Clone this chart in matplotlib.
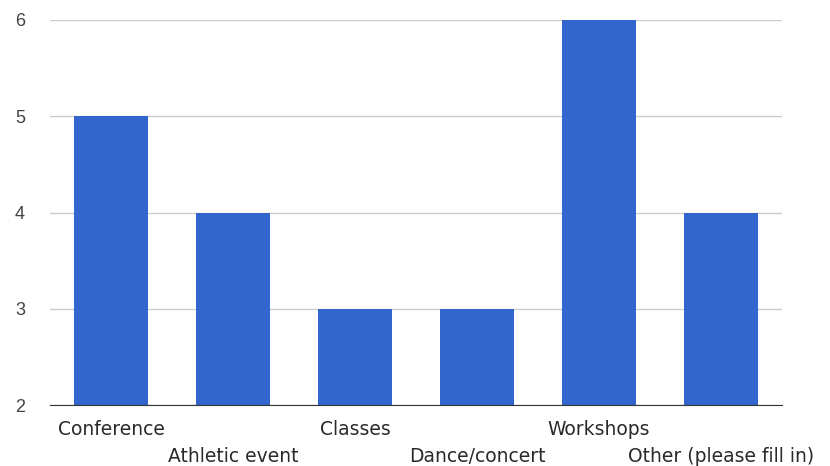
import matplotlib
matplotlib.use("Agg")
import matplotlib.pyplot as plt

# data
categories = ["Conference", "Athletic event", "Classes", "Dance/concert",
              "Workshops", "Other (please fill in)"]
counts = [5, 4, 3, 3, 6, 4]
yticks = [2, 3, 4, 5, 6]

plt.rcParams["font.family"] = ["Liberation Sans", "DejaVu Sans"]

fig = plt.figure(figsize=(8.3, 4.66), dpi=100)
ax = fig.add_axes([50 / 830, 61 / 466, 732 / 830, 385 / 466])

x = list(range(len(categories)))
ax.bar(x, counts, width=0.61, color="#3366cc", zorder=2)

ax.set_xlim(-0.5, len(categories) - 0.5)
ax.set_ylim(2, 6)
ax.set_yticks(yticks)
ax.set_yticklabels([str(v) for v in yticks], fontsize=13, color="#444444")
ax.grid(axis="y", color="#cccccc", linewidth=1, zorder=0)

# category labels alternate between two rows; DejaVu is wider, closer to the reference
ax.set_xticks(x)
ax.set_xticklabels(categories, fontsize=13.5, color="#2a2a2a", family="DejaVu Sans")
for i, tick in enumerate(ax.xaxis.get_major_ticks()):
    tick.set_pad(11 if i % 2 == 0 else 30)

ax.tick_params(axis="both", length=0)
ax.tick_params(axis="y", pad=18)
for side in ["top", "right", "left"]:
    ax.spines[side].set_visible(False)
ax.spines["bottom"].set_color("#333333")
ax.spines["bottom"].set_zorder(3)

fig.savefig("out.png", dpi=100)
